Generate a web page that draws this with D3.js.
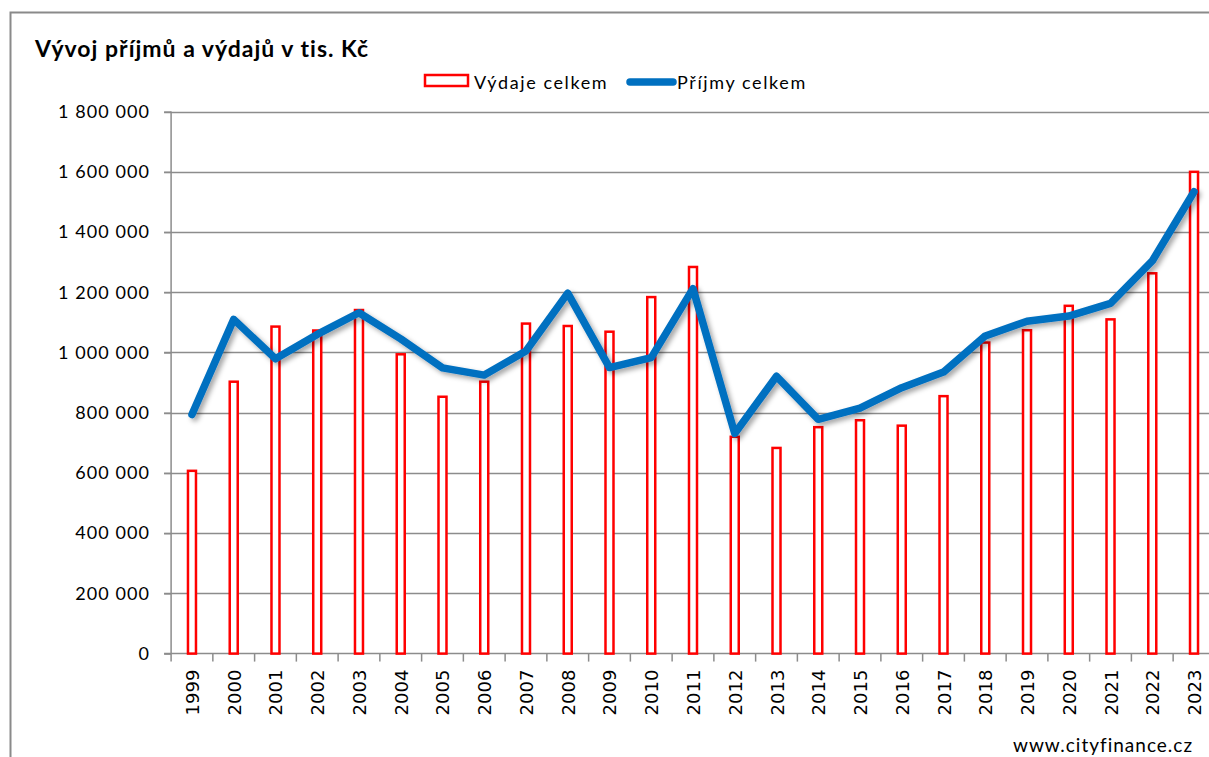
<!DOCTYPE html>
<html>
<head>
<meta charset="utf-8">
<script src="https://cdn.jsdelivr.net/npm/d3@7"></script>
<style>
  body { margin: 0; background: #fff; }
  svg { display: block; }
</style>
</head>
<body>
<svg id="chart" width="1209" height="757"></svg>
<script>
// data (thousands of CZK)
const years = ["1999","2000","2001","2002","2003","2004","2005","2006","2007","2008","2009","2010","2011","2012","2013","2014","2015","2016","2017","2018","2019","2020","2021","2022","2023"];
const vydaje = [607000, 903000, 1086000, 1073000, 1141000, 994000, 853000, 903000, 1096000, 1088000, 1069000, 1184000, 1284000, 720000, 683000, 752000, 775000, 757000, 855000, 1033000, 1074000, 1155000, 1110000, 1263000, 1600000];
const prijmy = [794000, 1110000, 979000, 1060000, 1132000, 1045000, 949000, 925000, 1005000, 1197000, 950000, 983000, 1212000, 731000, 921000, 778000, 815000, 883000, 935000, 1055000, 1104000, 1121000, 1163000, 1304000, 1534000];
const yTicks = [0, 200000, 400000, 600000, 800000, 1000000, 1200000, 1400000, 1600000, 1800000];

const svg = d3.select("#chart");
const pLeft = 171.1, pRight = 1214.9, pTop = 111.6, pBottom = 653.6;
const gridCol = "#8c8c8c";
const fmt = v => d3.format(",")(v).replace(/,/g, " ");

// rámeček grafu
svg.append("path")
  .attr("d", "M10.5,760 V12.5 H1215")
  .attr("fill", "none").attr("stroke", "#8a8a8a").attr("stroke-width", 2);

// nadpis
svg.append("text")
  .attr("x", 35).attr("y", 57)
  .attr("font-family", "Lato, 'Open Sans', sans-serif")
  .attr("font-weight", "bold").attr("font-size", 23)
  .attr("letter-spacing", 1)
  .attr("fill", "#000")
  .text("Vývoj příjmů a výdajů v tis. Kč");

const x = d3.scaleBand().domain(years).range([pLeft, pRight]);
const y = d3.scaleLinear().domain([0, 1800000]).range([pBottom, pTop]);

// mřížka
svg.append("g").selectAll("line")
  .data(yTicks.filter(d => d > 0))
  .enter().append("line")
  .attr("x1", pLeft - 7).attr("x2", pRight)
  .attr("y1", d => Math.round(y(d)) + 0.5).attr("y2", d => Math.round(y(d)) + 0.5)
  .attr("stroke", gridCol).attr("stroke-width", 1.5);

// osa y
const yAxis = svg.append("g")
  .attr("transform", `translate(${pLeft},0)`)
  .call(d3.axisLeft(y).tickValues(yTicks).tickFormat(fmt).tickSize(7).tickPadding(14));
yAxis.select(".domain").remove();
yAxis.selectAll(".tick line").attr("stroke", gridCol).attr("stroke-width", 1.5);
yAxis.selectAll("text")
  .attr("font-family", "Lato, 'Open Sans', sans-serif")
  .attr("font-size", 18).attr("letter-spacing", 1.1).attr("fill", "#000");
svg.append("line")
  .attr("x1", pLeft).attr("x2", pLeft).attr("y1", pTop).attr("y2", pBottom + 8)
  .attr("stroke", gridCol).attr("stroke-width", 1.5);

// osa x
svg.append("line")
  .attr("x1", pLeft - 7).attr("x2", pRight).attr("y1", pBottom).attr("y2", pBottom)
  .attr("stroke", gridCol).attr("stroke-width", 1.5);
svg.append("g").selectAll("line")
  .data(years.slice(1))
  .enter().append("line")
  .attr("x1", d => x(d)).attr("x2", d => x(d))
  .attr("y1", pBottom).attr("y2", pBottom + 8)
  .attr("stroke", gridCol).attr("stroke-width", 1.5);
svg.append("g").selectAll("text")
  .data(years)
  .enter().append("text")
  .attr("transform", d => `translate(${x(d) + x.bandwidth() / 2 + 7},${pBottom + 16}) rotate(-90)`)
  .attr("text-anchor", "end")
  .attr("font-family", "'DejaVu Sans', sans-serif")
  .attr("font-size", 18).attr("fill", "#000")
  .text(d => d);

// sloupce - výdaje
const bw = 8;
svg.append("g").selectAll("rect")
  .data(years)
  .enter().append("rect")
  .attr("x", d => x(d) + x.bandwidth() / 2 - bw / 2)
  .attr("width", bw)
  .attr("y", (d, i) => y(vydaje[i]))
  .attr("height", (d, i) => pBottom - y(vydaje[i]))
  .attr("fill", "#fff").attr("stroke", "#ff0000").attr("stroke-width", 2.5);

// čára - příjmy se stínem
const defs = svg.append("defs");
const f = defs.append("filter").attr("id", "shadow").attr("x", "-10%").attr("y", "-10%").attr("width", "120%").attr("height", "130%");
f.append("feDropShadow").attr("dx", 3).attr("dy", 3).attr("stdDeviation", 2.5)
  .attr("flood-color", "#000").attr("flood-opacity", 0.35);

const line = d3.line()
  .x((d, i) => x(years[i]) + x.bandwidth() / 2)
  .y(d => y(d));
svg.append("path")
  .datum(prijmy)
  .attr("d", line)
  .attr("fill", "none").attr("stroke", "#0070c0").attr("stroke-width", 7.5)
  .attr("stroke-linejoin", "round").attr("stroke-linecap", "round")
  .attr("filter", "url(#shadow)");

// legenda
const lg = svg.append("g").attr("font-family", "Lato, 'Open Sans', sans-serif").attr("font-size", 18);
lg.append("rect").attr("x", 425).attr("y", 75).attr("width", 43).attr("height", 11)
  .attr("fill", "#fff").attr("stroke", "#ff0000").attr("stroke-width", 2.5);
lg.append("text").attr("x", 474).attr("y", 89).attr("fill", "#000").attr("letter-spacing", 1.6).text("Výdaje celkem");
lg.append("line").attr("x1", 630).attr("x2", 673).attr("y1", 82).attr("y2", 82)
  .attr("stroke", "#0070c0").attr("stroke-width", 7.5).attr("stroke-linecap", "round");
lg.append("text").attr("x", 677).attr("y", 89).attr("fill", "#000").attr("letter-spacing", 1.6).text("Příjmy celkem");

// zdroj
svg.append("text")
  .attr("x", 1193).attr("y", 752)
  .attr("text-anchor", "end")
  .attr("font-family", "Lato, 'Open Sans', sans-serif")
  .attr("font-size", 19).attr("letter-spacing", 1)
  .attr("fill", "#000")
  .text("www.cityfinance.cz");
</script>
</body>
</html>
